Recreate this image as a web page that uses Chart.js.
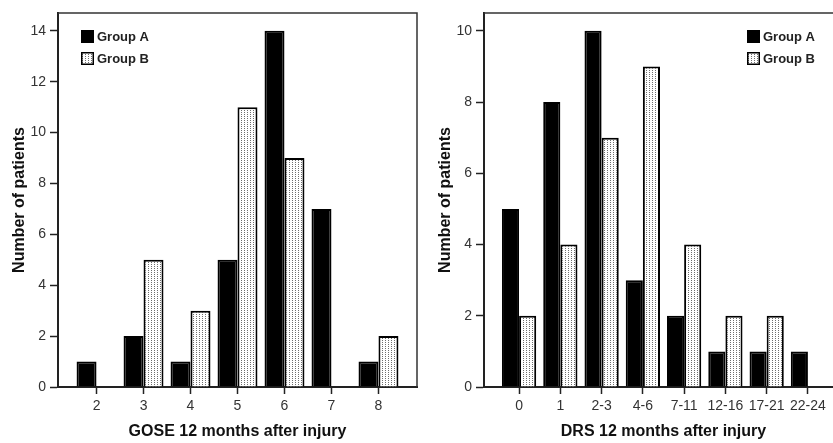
<!DOCTYPE html>
<html>
<head>
<meta charset="utf-8">
<script src="https://cdn.jsdelivr.net/npm/chart.js@4"></script>
<style>
  html, body { margin: 0; padding: 0; background: #fff; overflow: hidden; width: 833px; height: 443px; }
  canvas { position: absolute; top: 0; }
  #goseChart { left: 0; }
  #drsChart { left: 417px; }
</style>
</head>
<body>
<canvas id="goseChart" width="420" height="443"></canvas>
<canvas id="drsChart" width="430" height="443"></canvas>
<script>
// data
const seriesNames = ['Group A', 'Group B'];
const goseLabels = ['2', '3', '4', '5', '6', '7', '8'];
const goseGroupA = [1, 2, 1, 5, 14, 7, 1];
const goseGroupB = [0, 5, 3, 11, 9, 0, 2];
const drsLabels = ['0', '1', '2-3', '4-6', '7-11', '12-16', '17-21', '22-24'];
const drsGroupA = [5, 8, 10, 3, 2, 1, 1, 1];
const drsGroupB = [2, 4, 7, 9, 4, 2, 2, 0];

const FONT = 'Liberation Sans, Arial, sans-serif';

// stippled fill used for Group B
function dotPattern() {
    const c = document.createElement('canvas');
    c.width = 3;
    c.height = 2;
    const g = c.getContext('2d');
    g.fillStyle = '#fff';
    g.fillRect(0, 0, 3, 2);
    g.fillStyle = '#6e6e6e';
    g.fillRect(1, 0, 1, 1);
    return g.createPattern(c, 'repeat');
}

// top + right frame of the plot box
const framePlugin = {
    id: 'frame',
    afterDraw(chart) {
        const { ctx, chartArea: a } = chart;
        ctx.save();
        ctx.strokeStyle = '#333';
        ctx.lineWidth = 1.5;
        ctx.beginPath();
        ctx.moveTo(a.left, a.top);
        ctx.lineTo(a.right, a.top);
        ctx.lineTo(a.right, a.bottom);
        ctx.stroke();
        ctx.restore();
    }
};

// legend drawn inside the plot box
const boxLegend = {
    id: 'boxLegend',
    afterDraw(chart, args, opts) {
        const ctx = chart.ctx;
        ctx.save();
        ctx.font = 'bold 13px ' + FONT;
        ctx.textBaseline = 'middle';
        chart.data.datasets.forEach((ds, i) => {
            const y = opts.y + i * 22;
            ctx.fillStyle = ds.backgroundColor;
            ctx.fillRect(opts.x, y, 13, 13);
            ctx.strokeStyle = '#000';
            ctx.lineWidth = 1.5;
            ctx.strokeRect(opts.x + 0.75, y + 0.75, 11.5, 11.5);
            ctx.fillStyle = '#222';
            ctx.fillText(ds.label, opts.x + 16, y + 7);
        });
        ctx.restore();
    }
};

function makeChart(id, cfg) {
    const ctx = document.getElementById(id).getContext('2d');
    return new Chart(ctx, {
        type: 'bar',
        data: {
            labels: cfg.labels,
            datasets: [{
                label: seriesNames[0],
                data: cfg.a,
                backgroundColor: '#000',
                borderColor: '#000',
                borderWidth: 2
            }, {
                label: seriesNames[1],
                data: cfg.b,
                backgroundColor: dotPattern(),
                borderColor: '#000',
                borderWidth: 2
            }]
        },
        plugins: [framePlugin, boxLegend],
        options: {
            responsive: false,
            animation: false,
            categoryPercentage: cfg.catPct,
            barPercentage: 1,
            layout: { padding: { top: 13, right: cfg.padRight, left: 0, bottom: 0 } },
            plugins: {
                legend: { display: false },
                tooltip: { enabled: false },
                boxLegend: { x: cfg.legendX, y: 30 }
            },
            scales: {
                x: {
                    grid: { drawOnChartArea: false, offset: false, tickLength: 7, color: '#222', tickWidth: 1.5 },
                    border: { color: '#222', width: 2 },
                    ticks: { color: '#333', font: { family: FONT, size: 14 }, padding: 4, maxRotation: 0, autoSkip: false },
                    title: {
                        display: true, text: cfg.xTitle, color: '#111',
                        font: { family: FONT, size: 16, weight: 'bold' },
                        padding: { top: 0, bottom: 2 }
                    },
                    // leave some room between the outer bars and the box
                    afterBuildTicks: s => { s._startValue -= cfg.margin; s._valueRange += 2 * cfg.margin; },
                    afterFit: s => { s.height = 56; }
                },
                y: {
                    min: 0,
                    max: cfg.yMax,
                    grid: { drawOnChartArea: false, tickLength: 8, color: '#222', tickWidth: 1.5 },
                    border: { color: '#222', width: 2 },
                    ticks: { stepSize: 2, includeBounds: false, color: '#333', font: { family: FONT, size: 14 }, padding: 4 },
                    title: {
                        display: true, text: 'Number of patients', color: '#111',
                        font: { family: FONT, size: 16, weight: 'bold' },
                        padding: { top: cfg.yTitlePad, bottom: 0 }
                    },
                    afterFit: s => { s.width = cfg.yWidth; }
                }
            }
        }
    });
}

makeChart('goseChart', {
    labels: goseLabels, a: goseGroupA, b: goseGroupB,
    xTitle: 'GOSE 12 months after injury',
    yMax: 14.7, yWidth: 58, yTitlePad: 10, padRight: 3,
    catPct: 0.85, margin: 0.32, legendX: 81
});

makeChart('drsChart', {
    labels: drsLabels, a: drsGroupA, b: drsGroupB,
    xTitle: 'DRS 12 months after injury',
    yMax: 10.5, yWidth: 67, yTitlePad: 19, padRight: 4,
    catPct: 0.83, margin: 0.35, legendX: 330
});
</script>
</body>
</html>
